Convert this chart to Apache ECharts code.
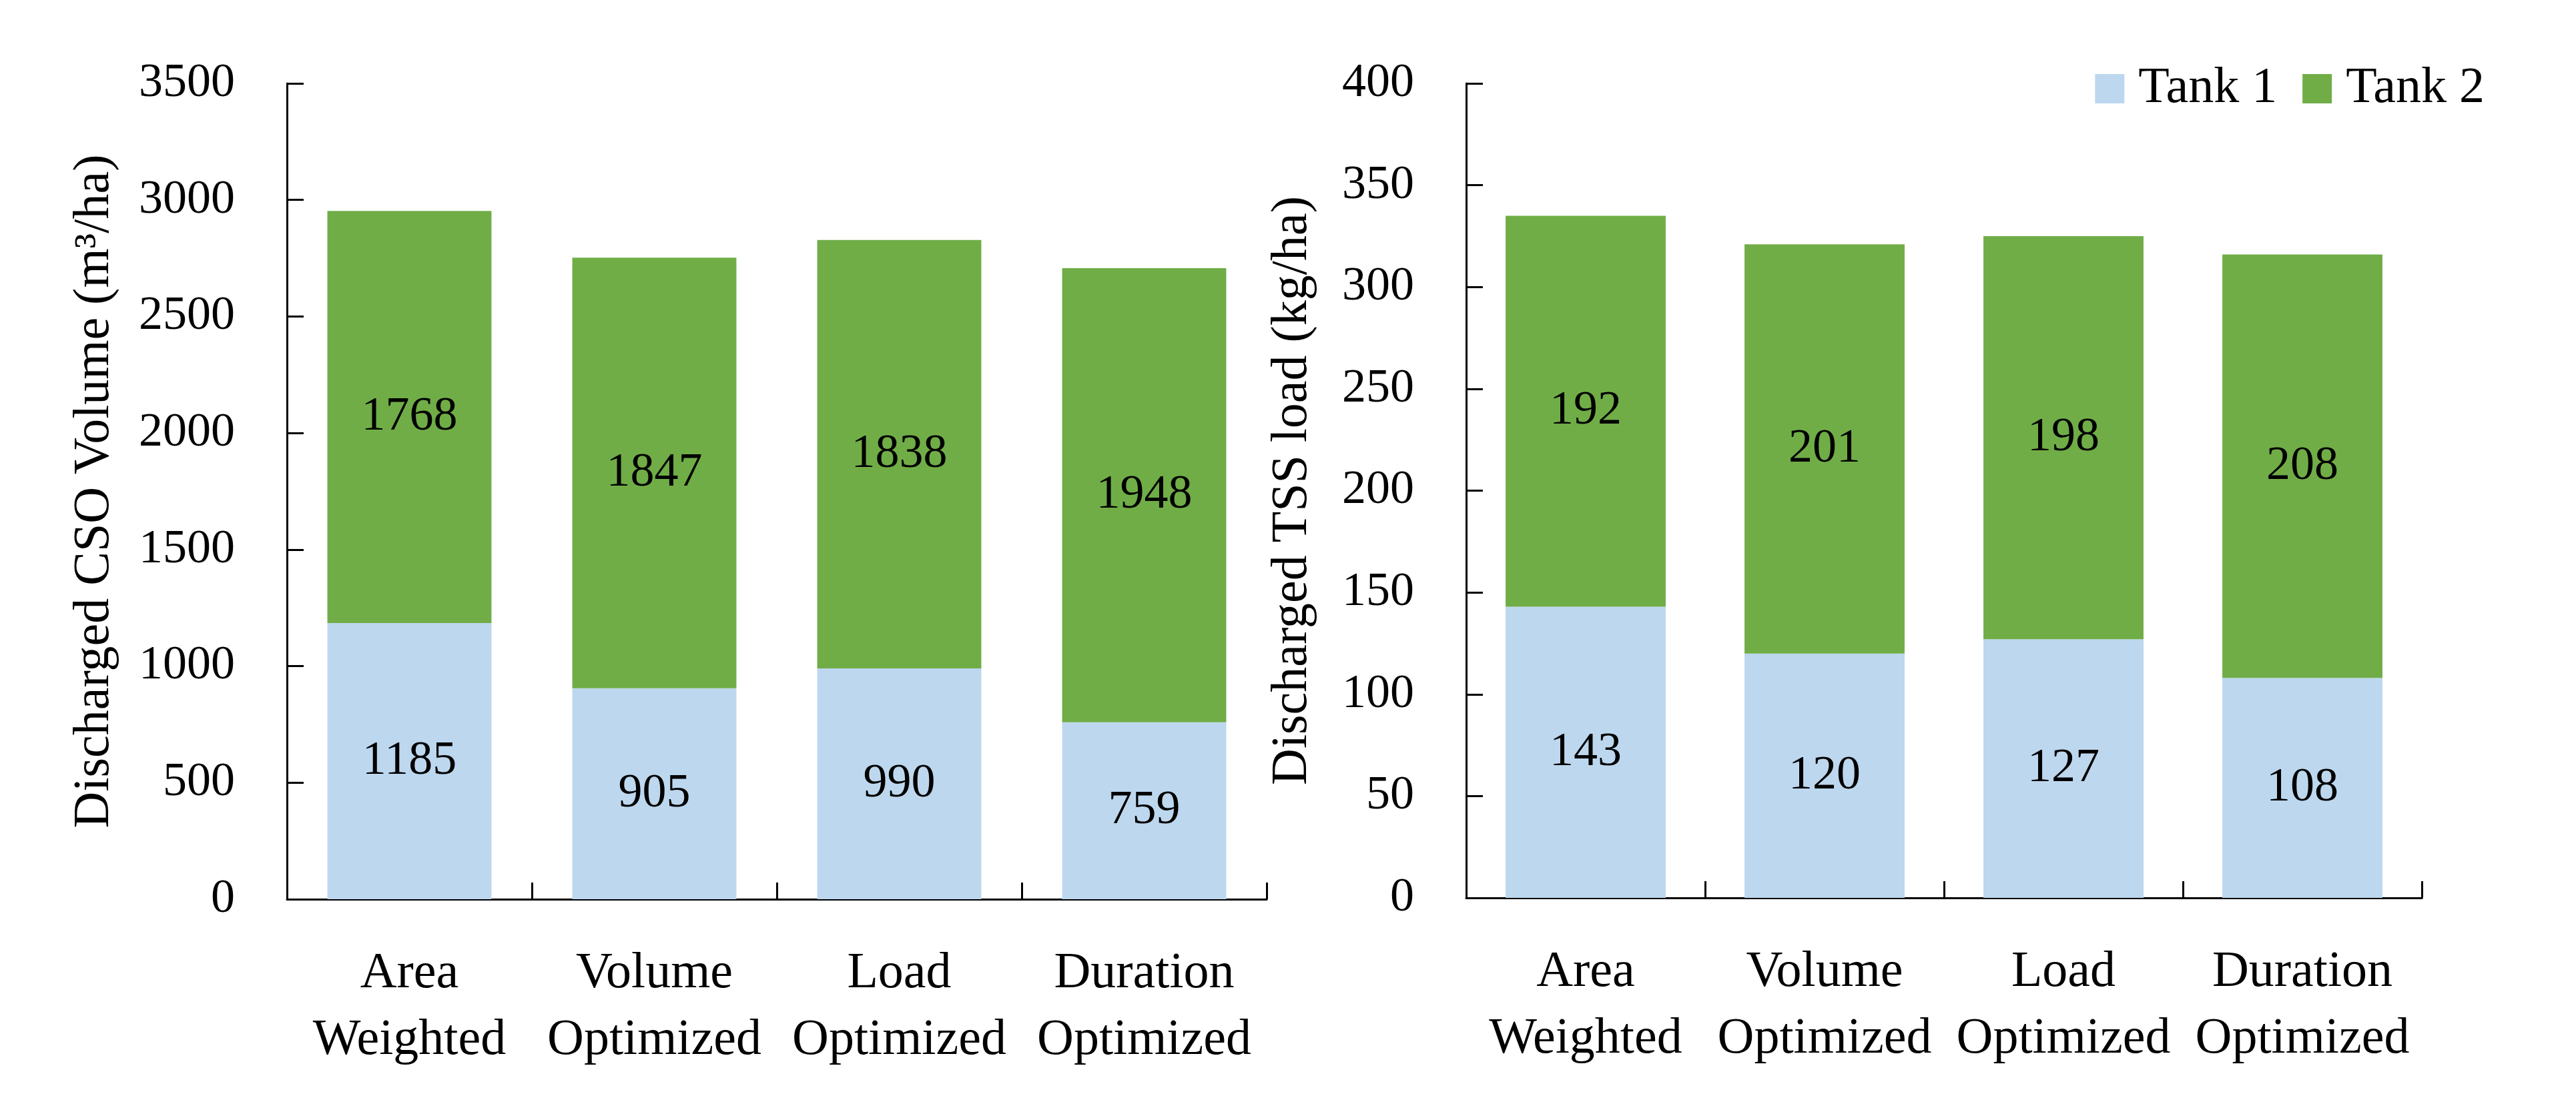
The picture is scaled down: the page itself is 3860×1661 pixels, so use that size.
<!DOCTYPE html>
<html>
<head>
<meta charset="utf-8">
<script src="https://cdn.jsdelivr.net/npm/echarts@6/dist/echarts.min.js"></script>
<style>
html,body{margin:0;padding:0;background:#fff;}
#chart{width:3860px;height:1661px;}
</style>
</head>
<body>
<div id="chart"></div>
<script>
var categories = ['Area\nWeighted', 'Volume\nOptimized', 'Load\nOptimized', 'Duration\nOptimized'];
var volumeTank1 = [1185, 905, 990, 759];
var volumeTank2 = [1768, 1847, 1838, 1948];
var loadTank1 = [143, 120, 127, 108];
var loadTank2 = [192, 201, 198, 208];
var volumeTicks = {min: 0, max: 3500, interval: 500};
var loadTicks = {min: 0, max: 400, interval: 50};

var FONT = '"Liberation Serif", "DejaVu Serif", serif';
var FSN = 72;   // numbers
var FSW = 76;   // words
var C1 = '#BDD7EE', C2 = '#70AD47';

function xAxis(gi) {
  return {
    type: 'category', gridIndex: gi, data: categories,
    axisLine: {lineStyle: {color: '#000', width: 3}},
    axisTick: {show: true, inside: true, length: 25, interval: 0, lineStyle: {color: '#000', width: 3}},
    axisLabel: {interval: 0, color: '#000', fontFamily: FONT, fontSize: FSW, lineHeight: 100, margin: 62},
    splitLine: {show: false}
  };
}
function yAxis(gi, t, name, gap) {
  return {
    type: 'value', gridIndex: gi, min: t.min, max: t.max, interval: t.interval,
    name: name, nameLocation: 'middle', nameGap: gap,
    nameTextStyle: {color: '#000', fontFamily: FONT, fontSize: FSW},
    axisLine: {show: true, lineStyle: {color: '#000', width: 3}},
    axisTick: {show: true, inside: true, length: 25, lineStyle: {color: '#000', width: 3}},
    axisLabel: {color: '#000', fontFamily: FONT, fontSize: FSN, margin: 78, formatter: function (v) { return String(v); }},
    splitLine: {show: false}
  };
}
function bar(name, gi, stack, data, color) {
  return {
    name: name, type: 'bar', stack: stack, xAxisIndex: gi, yAxisIndex: gi,
    data: data, barWidth: '67%',
    itemStyle: {color: color},
    label: {show: true, position: 'inside', color: '#000', fontFamily: FONT, fontSize: FSN},
    emphasis: {disabled: true}
  };
}

var chart = echarts.init(document.getElementById('chart'));
chart.setOption({
  backgroundColor: '#fff',
  animation: false,
  legend: {
    data: ['Tank 1', 'Tank 2'],
    right: 132, top: 90,
    itemWidth: 44, itemHeight: 44, itemGap: 38,
    textStyle: {color: '#000', fontFamily: FONT, fontSize: FSW, padding: [0, 0, 0, 16]},
    icon: 'rect'
  },
  grid: [
    {left: 430, top: 125, width: 1468, height: 1223, outerBoundsMode: 'none'},
    {left: 2197, top: 125, width: 1432, height: 1221, outerBoundsMode: 'none'}
  ],
  xAxis: [xAxis(0), xAxis(1)],
  yAxis: [
    yAxis(0, volumeTicks, 'Discharged CSO Volume (m³/ha)', 250),
    yAxis(1, loadTicks, 'Discharged TSS load (kg/ha)', 222)
  ],
  series: [
    bar('Tank 1', 0, 'v', volumeTank1, C1),
    bar('Tank 2', 0, 'v', volumeTank2, C2),
    bar('Tank 1', 1, 'l', loadTank1, C1),
    bar('Tank 2', 1, 'l', loadTank2, C2)
  ]
});
</script>
</body>
</html>
